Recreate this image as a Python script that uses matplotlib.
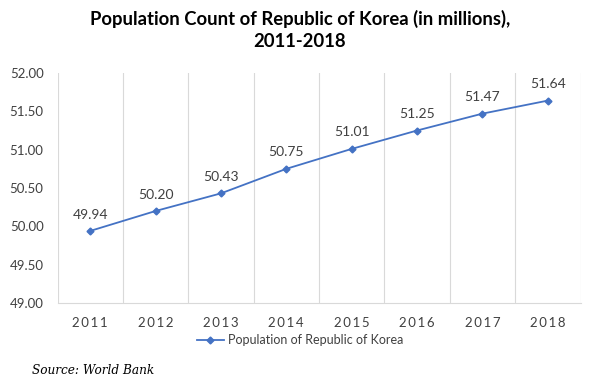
import matplotlib
matplotlib.use("Agg")
import matplotlib.pyplot as plt

years = ["2011", "2012", "2013", "2014", "2015", "2016", "2017", "2018"]
population = [49.94, 50.20, 50.43, 50.75, 51.01, 51.25, 51.47, 51.64]
yticks = [49.00, 49.50, 50.00, 50.50, 51.00, 51.50, 52.00]
series_name = "Population of Republic of Korea"
title = "Population Count of Republic of Korea (in millions),\n2011-2018"
source = "Source: World Bank"

W, H = 600, 387
fig = plt.figure(figsize=(W / 100, H / 100), dpi=100)
ax = fig.add_axes([57.5 / W, 1 - 303 / H, (580.5 - 57.5) / W, (303 - 73) / H])

x = list(range(len(years)))
line, = ax.plot(x, population, color="#4472C4", lw=1.3, marker="D", ms=3.5,
                label=series_name)
for xi, v in zip(x, population):
    ax.annotate(f"{v:.2f}", (xi, v), xytext=(0, 7.5), textcoords="offset points",
                ha="center", va="bottom", fontsize=10, color="#404040",
                family="Lato")

ax.set_xlim(-0.5, len(years) - 0.5)
ax.set_ylim(49, 52)
ax.set_yticks(yticks)
ax.set_yticklabels([f"{t:.2f}" for t in yticks], family="Lato", fontsize=9.5,
                   color="#404040")
ax.set_xticks(x)
ax.set_xticklabels(["\u2009".join(y) for y in years], family="Lato",
                   fontsize=9.5, color="#404040")
ax.set_xticks([i - 0.5 for i in range(len(years) + 1)], minor=True)
ax.grid(axis="x", which="minor", color="#D9D9D9", lw=0.8)
ax.tick_params(axis="both", which="both", length=0)
ax.tick_params(axis="x", pad=10)
ax.tick_params(axis="y", pad=10)
for s in ["top", "right", "left"]:
    ax.spines[s].set_visible(False)
ax.spines["bottom"].set_color("#D9D9D9")
ax.spines["bottom"].set_linewidth(0.8)

fig.text(0.5, 1 - 30 / H, title, ha="center", va="center", fontsize=13.3,
         fontweight="bold", family="Lato", color="#000000", linespacing=1.3)

leg = fig.legend(handles=[line], loc="center", bbox_to_anchor=(0.5, 1 - 340 / H),
                 frameon=False, prop={"family": "Lato", "size": 9},
                 handlelength=2.2, handletextpad=0.3)
for t in leg.get_texts():
    t.set_color("#404040")

fig.text(32 / W, 1 - 371 / H, source, ha="left", va="center", fontsize=8.7,
         style="italic", family="DejaVu Serif", color="#000000")

fig.savefig("out.png", dpi=100)
